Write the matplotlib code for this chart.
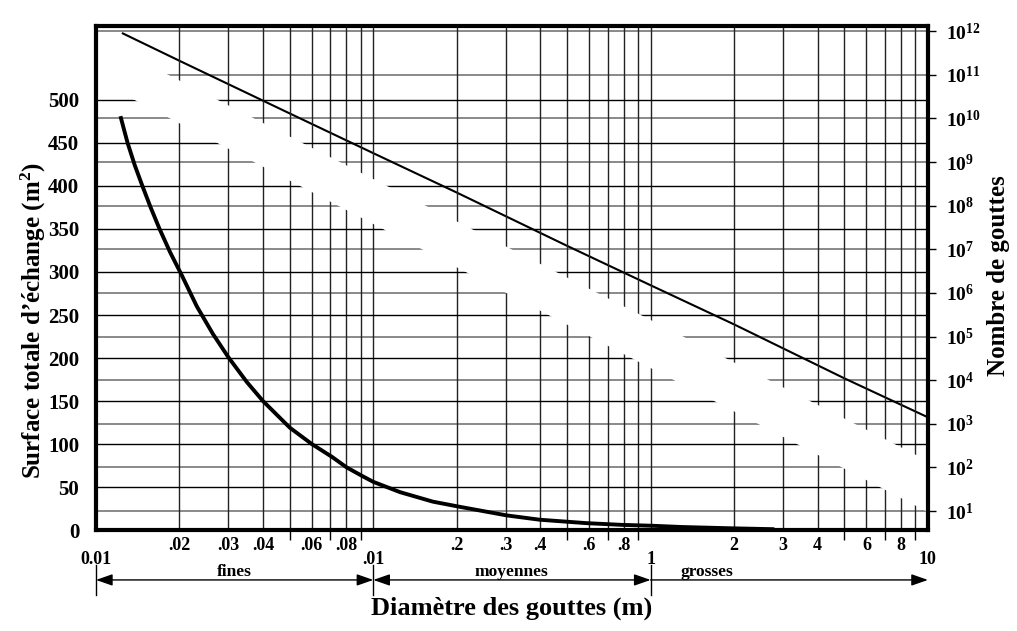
import matplotlib
matplotlib.use('Agg')
import matplotlib.pyplot as plt
from matplotlib.patches import Polygon
from matplotlib.ticker import NullFormatter, NullLocator

plt.rcParams['font.family'] = ['Liberation Serif', 'DejaVu Serif']
plt.rcParams['font.weight'] = 'bold'
plt.rcParams['mathtext.fontset'] = 'custom'
plt.rcParams['mathtext.rm'] = 'Liberation Serif:bold'
plt.rcParams['mathtext.bf'] = 'Liberation Serif:bold'
plt.rcParams['mathtext.it'] = 'Liberation Serif:bold:italic'

# nombre de gouttes (axe de droite, log)
diam_n = [0.0125, 0.02, 0.05, 0.1, 0.2, 0.5, 1, 2, 5, 9.9]
nombre = [8.9e11, 2.1e11, 1.3e10, 1.6e9, 2.0e8, 1.2e7, 1.5e6, 1.9e5, 1.1e4, 1.45e3]

# surface totale d'echange (axe de gauche)
diam_s = [0.0123, 0.0130, 0.0138, 0.0147, 0.0157, 0.0169, 0.0185, 0.0204, 0.0231,
          0.0264, 0.030, 0.035, 0.040, 0.050, 0.060, 0.071, 0.080, 0.091, 0.100,
          0.125, 0.164, 0.205, 0.303, 0.398, 0.588, 0.79, 1.01, 1.30, 1.97, 2.75]
surface = [479, 450, 424, 400, 376, 351, 323, 296, 260,
           228, 201, 172, 150, 119, 100, 85, 73, 63, 56,
           44, 33, 27, 17, 12, 8, 6, 5, 3.5, 2, 1]

surf_ticks = list(range(0, 501, 50))
nb_exp = list(range(1, 13))

decades = [0.01, 0.1, 1, 10]
decade_labels = ['0.01', '.01', '1', '10']
sub_ticks = [0.02, 0.03, 0.04, 0.06, 0.08, 0.2, 0.3, 0.4, 0.6, 0.8, 2, 3, 4, 6, 8]
sub_labels = ['.02', '.03', '.04', '.06', '.08', '.2', '.3', '.4', '.6', '.8',
              '2', '3', '4', '6', '8']
mid_ticks = [0.05, 0.07, 0.09, 0.5, 0.7, 0.9, 5, 7, 9]

classes = ['fines', 'moyennes', 'grosses']
class_bounds = [0.01, 0.1, 1, 10]
class_label_x = [0.0316, 0.316, 1.6]

fig = plt.figure(figsize=(10.17, 6.31), dpi=100)
ax = fig.add_axes([0.0944, 0.160, 0.818, 0.7988])
ax2 = ax.twinx()
ax.set_zorder(ax2.get_zorder() + 1)
ax.patch.set_visible(False)

ax.set_xscale('log')
ax.set_xlim(0.01, 10)
ax.set_ylim(0, 586)
ax2.set_yscale('log')
ax2.set_ylim(10 ** 0.564, 10 ** 12.12)

ax2.plot(diam_n, nombre, color='k', lw=1.5, zorder=3)
ax.plot(diam_s, surface, color='k', lw=2.8, zorder=3, solid_joinstyle='round')

# grille
ax.set_axisbelow(True)
ax.set_yticks(surf_ticks)
ax.yaxis.grid(True, color='k', lw=1)
ax2.set_yticks([10.0 ** e for e in nb_exp], labels=['$10^{%d}$' % e for e in nb_exp])
ax2.yaxis.set_minor_locator(NullLocator())
ax2.yaxis.grid(True, color='#808080', lw=1.3)

ax.set_xticks(decades + sub_ticks, labels=[''] * len(decades) + sub_labels)
ax.set_xticks(mid_ticks, minor=True)
ax.xaxis.set_minor_formatter(NullFormatter())
ax.xaxis.grid(True, which='both', color='#222222', lw=1)

# bande blanche (zone effacee du scan)
band = Polygon([(0, 0.976), (1, 0.137), (1, 0.0357), (0, 0.893)], closed=True,
               transform=ax.transAxes, facecolor='white', edgecolor='none', zorder=2)
ax.add_patch(band)

ax.tick_params(axis='y', length=0, pad=12, labelsize=15)
ax.tick_params(axis='x', which='major', length=0, pad=5, labelsize=13)
ax.tick_params(axis='x', which='minor', length=7, width=1, direction='out')
ax2.tick_params(axis='y', length=6, width=1, pad=7, labelsize=14)

sec = ax.secondary_xaxis('bottom')
sec.set_xticks(decades, labels=decade_labels)
sec.xaxis.set_minor_locator(NullLocator())
sec.tick_params(length=0, pad=15, labelsize=13)
sec.spines['bottom'].set_visible(False)

for s in ax.spines.values():
    s.set_linewidth(3)
for s in ax2.spines.values():
    s.set_visible(False)

# classes de gouttes
trans = ax.get_xaxis_transform()
for lo, hi, name, lx in zip(class_bounds[:-1], class_bounds[1:], classes, class_label_x):
    style = '-|>' if name == 'grosses' else '<|-|>'
    ax.annotate('', xy=(hi, -0.099), xytext=(lo, -0.099), xycoords=trans, textcoords=trans,
                arrowprops=dict(arrowstyle=style + ',head_length=1.0,head_width=0.35',
                                color='k', lw=1, shrinkA=0, shrinkB=0),
                annotation_clip=False)
    ax.text(lx, -0.083, name, transform=trans, ha='center', va='center', fontsize=12.5)
    ax.plot([lo, lo], [-0.069, -0.129], transform=trans, color='k', lw=1, clip_on=False)

fig.text(0.503, 0.0365, 'Diamètre des gouttes (m)', ha='center', va='center', fontsize=19)
fig.text(33 / 1017, 1 - 321 / 631, 'Surface totale d’échange (m$^2$)', rotation=90,
         ha='center', va='center', fontsize=18)
fig.text(999 / 1017, 1 - 276 / 631, 'Nombre de gouttes', rotation=90,
         ha='center', va='center', fontsize=18)

fig.savefig('out.png', dpi=100)
